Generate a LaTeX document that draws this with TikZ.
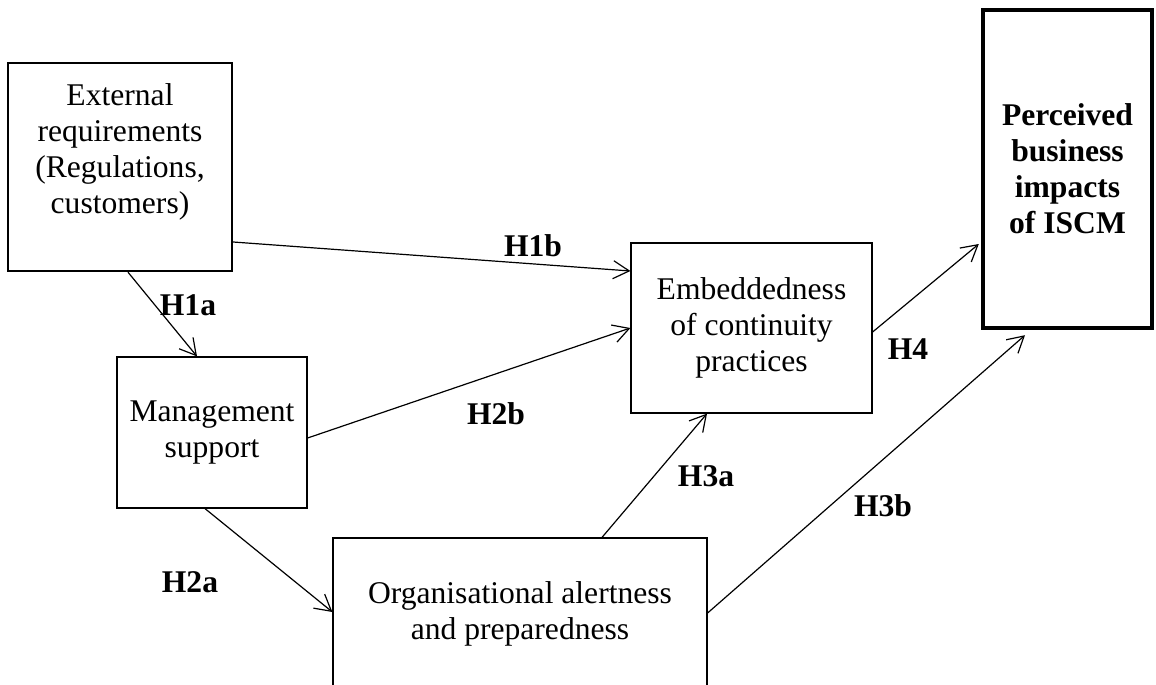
\documentclass[tikz,border=0pt]{standalone}
\usepackage{fontspec}
\setmainfont{Liberation Serif}
\usetikzlibrary{arrows.meta, calc}

\begin{document}
\begin{tikzpicture}[
    x=0.5pt, y=-0.5pt,
    kasse/.style = {rectangle, draw, line width=0.6pt, align=center, inner sep=0pt},
    pil/.style = {black, line width=0.6pt, -{Straight Barb[length=8pt, width=9pt]}},
    hyp/.style = {font=\fontsize{15.8}{18}\selectfont\bfseries},
    font=\fontsize{15.8}{18}\selectfont
    ]
  \useasboundingbox (0,0) rectangle (1156,685);
  \clip (0,0) rectangle (1156,685);

  \node[kasse, line width=1.2pt, minimum width=112pt, minimum height=104pt] (ext) at (120,167) {External\\requirements\\(Regulations,\\customers)\\~};
  \node[kasse, minimum width=95pt, minimum height=75.5pt] (mgmt) at (212,432.5) {Management\\support};
  \node[kasse, minimum width=120.5pt, minimum height=85pt] (emb) at (751.5,328) {Embeddedness\\of continuity\\practices};
  \node[kasse, minimum width=187pt, minimum height=76pt] (org) at (520,614) {Organisational alertness\\and preparedness};
  \node[kasse, line width=2.2pt, minimum width=84.5pt, minimum height=159pt, font=\fontsize{15.8}{18}\selectfont\bfseries] (perc) at (1067.5,169) {Perceived\\business\\impacts\\of ISCM};

  \node[hyp] (h1a) at (188,305) {H1a};
  \node[hyp] (h1b) at (533,246) {H1b};
  \node[hyp] (h2a) at (190,582) {H2a};
  \node[hyp] (h2b) at (496,414) {H2b};
  \node[hyp] (h3a) at (706,476) {H3a};
  \node[hyp] (h3b) at (883,506) {H3b};
  \node[hyp] (h4) at (908,349) {H4};

  \draw[pil] ($(ext.south)+(8,0)$) -- ($(mgmt.north)+(-15,0)$);
  \draw[pil] ($(ext.east)+(0,75)$) -- ($(emb.west)+(0,-57)$);
  \draw[pil] ($(mgmt.east)+(0,5.5)$) -- (emb.west);
  \draw[pil] ($(mgmt.south)+(-7,0)$) -- ($(org.west)+(0,-2)$);
  \draw[pil] ($(org.north)+(82,0)$) -- ($(emb.south)+(-44.5,0)$);
  \draw[pil] ($(org.east)+(0,-1)$) -- ($(perc.south)+(-42.5,5)$);
  \draw[pil] ($(emb.east)+(0,4)$) -- ($(perc.west)+(-2,75)$);

\end{tikzpicture}
\end{document}
